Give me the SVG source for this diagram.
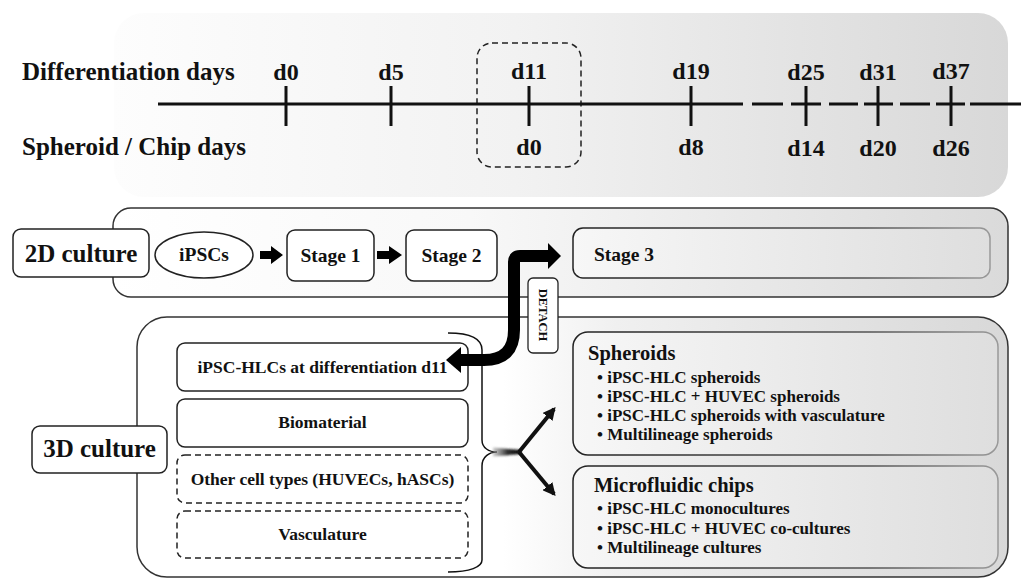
<svg xmlns="http://www.w3.org/2000/svg" width="1021" height="579" viewBox="0 0 1021 579">
<defs>
  <linearGradient id="gTop" x1="0" y1="0" x2="1" y2="0">
    <stop offset="0" stop-color="#fdfdfd"/>
    <stop offset="0.45" stop-color="#f2f2f2"/>
    <stop offset="1" stop-color="#d8d8d8"/>
  </linearGradient>
  <linearGradient id="g2D" x1="0" y1="0" x2="1" y2="0">
    <stop offset="0" stop-color="#ffffff"/>
    <stop offset="0.4" stop-color="#f8f8f8"/>
    <stop offset="1" stop-color="#dadada"/>
  </linearGradient>
  <linearGradient id="g3D" x1="0" y1="0" x2="1" y2="0">
    <stop offset="0" stop-color="#ffffff"/>
    <stop offset="0.42" stop-color="#ffffff"/>
    <stop offset="0.55" stop-color="#f0f0f0"/>
    <stop offset="1" stop-color="#d8d8d8"/>
  </linearGradient>
  <linearGradient id="gBox" x1="0" y1="0" x2="1" y2="0">
    <stop offset="0" stop-color="#f7f7f7"/>
    <stop offset="1" stop-color="#dedede"/>
  </linearGradient>
  <linearGradient id="gStroke" x1="0" y1="0" x2="1" y2="0">
    <stop offset="0" stop-color="#222222"/>
    <stop offset="0.7" stop-color="#555555"/>
    <stop offset="1" stop-color="#999999"/>
  </linearGradient>
  <linearGradient id="gSmudge" x1="0" y1="0" x2="1" y2="0">
    <stop offset="0" stop-color="#999999" stop-opacity="0.5"/>
    <stop offset="0.5" stop-color="#333333"/>
    <stop offset="1" stop-color="#000000"/>
  </linearGradient>
  <filter id="blur" x="-50%" y="-100%" width="200%" height="300%">
    <feGaussianBlur stdDeviation="1.2"/>
  </filter>
  <marker id="ah" viewBox="0 0 10 10" refX="8" refY="5" markerWidth="3.2" markerHeight="3.2" orient="auto" markerUnits="strokeWidth">
    <path d="M0,0 L10,5 L0,10 Z" fill="#111"/>
  </marker>
  <style>
    text { font-family: "Liberation Serif", "Times New Roman", serif; font-weight: bold; fill: #111; }
    .big { font-size: 25px; }
    .stage { font-size: 19.5px; }
    .inner { font-size: 17.5px; text-anchor: middle; }
    .head { font-size: 20.5px; }
    .item { font-size: 17px; }
    .day { font-size: 24px; text-anchor: middle; }
    .box { fill: #ffffff; stroke: #222; stroke-width: 1.5; }
    .dbox { fill: #ffffff; stroke: #222; stroke-width: 1.5; stroke-dasharray: 6 4; }
    .tl { stroke: #111; stroke-width: 3; fill: none; }
    .fork { fill: none; stroke: #111; stroke-width: 4; marker-end: url(#ah); }
  </style>
</defs>

<g id="timeline-panel">
  <rect x="114" y="13" width="894" height="184" rx="30" fill="url(#gTop)"/>
  <rect x="477" y="43" width="104" height="124" rx="15" fill="none" stroke="#222" stroke-width="1.5" stroke-dasharray="6 4"/>
  <path class="tl" d="M158 104 H743 M752 104 H783 M791 104 H821 M829 104 H858 M864 104 H893 M900 104 H930 M936 104 H965 M970 104 H1021"/>
  <path class="tl" d="M286 86 V126 M391 86 V126 M529 86 V126 M691 86 V126 M806 86 V126 M878 86 V126 M951 86 V126"/>
  <text class="big" x="22" y="80">Differentiation days</text>
  <text class="big" x="22" y="155">Spheroid / Chip days</text>
  <text class="day" x="286" y="80">d0</text>
  <text class="day" x="391" y="80">d5</text>
  <text class="day" x="529" y="79">d11</text>
  <text class="day" x="691" y="79">d19</text>
  <text class="day" x="806" y="80">d25</text>
  <text class="day" x="878" y="80">d31</text>
  <text class="day" x="951" y="79">d37</text>
  <text class="day" x="529" y="155">d0</text>
  <text class="day" x="691" y="155">d8</text>
  <text class="day" x="806" y="156">d14</text>
  <text class="day" x="878" y="156">d20</text>
  <text class="day" x="951" y="156">d26</text>
</g>

<g id="panel-2d">
  <rect x="113" y="208" width="895" height="89" rx="18" fill="url(#g2D)" stroke="#333" stroke-width="1.5"/>
</g>
<g id="label-2d">
  <rect class="box" x="13" y="229" width="136" height="48" rx="8"/>
  <text class="big" x="81" y="262" text-anchor="middle">2D culture</text>
</g>
<g id="ipscs">
  <ellipse cx="204" cy="255" rx="49" ry="23" fill="#ffffff" stroke="#222" stroke-width="1.5"/>
  <text class="stage" x="204" y="261" text-anchor="middle">iPSCs</text>
</g>
<g id="stage1">
  <rect class="box" x="287" y="230" width="87" height="51" rx="8"/>
  <text class="stage" x="330.5" y="262" text-anchor="middle">Stage 1</text>
</g>
<g id="stage2">
  <rect class="box" x="406" y="230" width="91" height="51" rx="8"/>
  <text class="stage" x="451.5" y="262" text-anchor="middle">Stage 2</text>
</g>
<g id="stage3">
  <rect x="573" y="228" width="417" height="50" rx="10" fill="url(#gBox)" stroke="url(#gStroke)" stroke-width="1.5"/>
  <text class="stage" x="594" y="261">Stage 3</text>
</g>

<g id="panel-3d">
  <rect x="137" y="317" width="871" height="260" rx="30" fill="url(#g3D)" stroke="#333" stroke-width="1.5"/>
</g>
<g id="label-3d">
  <rect class="box" x="32" y="426" width="135" height="47" rx="8"/>
  <text class="big" x="99.5" y="457" text-anchor="middle">3D culture</text>
</g>
<g id="hlcs">
  <rect class="box" x="177" y="343" width="291" height="48" rx="8"/>
  <text class="inner" x="322.5" y="373">iPSC-HLCs at differentiation d11</text>
</g>
<g id="biomaterial">
  <rect class="box" x="177" y="399" width="291" height="48" rx="8"/>
  <text class="inner" x="322.5" y="428">Biomaterial</text>
</g>
<g id="othercells">
  <rect class="dbox" x="177" y="455" width="291" height="48" rx="8"/>
  <text class="inner" x="322.5" y="485">Other cell types (HUVECs, hASCs)</text>
</g>
<g id="vasculature">
  <rect class="dbox" x="177" y="511" width="291" height="47" rx="8"/>
  <text class="inner" x="322.5" y="540">Vasculature</text>
</g>

<g id="spheroids">
  <rect x="573" y="332" width="425" height="123" rx="15" fill="url(#gBox)" stroke="url(#gStroke)" stroke-width="1.5"/>
  <text class="head" x="588" y="360">Spheroids</text>
  <text class="item" x="597" y="383">•  iPSC-HLC spheroids</text>
  <text class="item" x="597" y="402">•  iPSC-HLC + HUVEC spheroids</text>
  <text class="item" x="597" y="421">•  iPSC-HLC spheroids with vasculature</text>
  <text class="item" x="597" y="440">•  Multilineage spheroids</text>
</g>
<g id="chips">
  <rect x="573" y="466" width="425" height="102" rx="15" fill="url(#gBox)" stroke="url(#gStroke)" stroke-width="1.5"/>
  <text class="head" x="594" y="492">Microfluidic chips</text>
  <text class="item" x="597" y="514">•  iPSC-HLC monocultures</text>
  <text class="item" x="597" y="534">•  iPSC-HLC + HUVEC co-cultures</text>
  <text class="item" x="597" y="553">•  Multilineage cultures</text>
</g>

<g id="connectors">
  <polygon points="260,251 271,251 271,246 283,255 271,264 271,259 260,259" fill="#000"/>
  <polygon points="377,251 389,251 389,246 402,255 389,264 389,259 377,259" fill="#000"/>
  <path d="M448 333 C470 333 482 338 482 350 L482 440 C482 448 489 452 497 452 C489 452 482 457 482 466 L482 560 C482 567 470 572 448 572" fill="none" stroke="#111" stroke-width="1.5"/>
  <polygon points="493,447.5 521,450 521,454 493,456.5" fill="url(#gSmudge)" filter="url(#blur)"/>
  <path class="fork" d="M519 452 L554 409"/>
  <path class="fork" d="M519 452 L554 494"/>
  <path d="M549 256 H520 Q514 256 514 262 V330 Q514 360 484 360 H460" fill="none" stroke="#000" stroke-width="12"/>
  <polygon points="548,243 561,256 548,269" fill="#000"/>
  <polygon points="461,347 446,360 461,373" fill="#000"/>
</g>

<g id="detach">
  <rect x="528" y="278" width="30" height="75" rx="5" fill="#ffffff" stroke="#222" stroke-width="1.3"/>
  <text x="0" y="0" font-size="12.5" text-anchor="middle" dominant-baseline="central" transform="translate(543,315) rotate(90)">DETACH</text>
</g>
</svg>
